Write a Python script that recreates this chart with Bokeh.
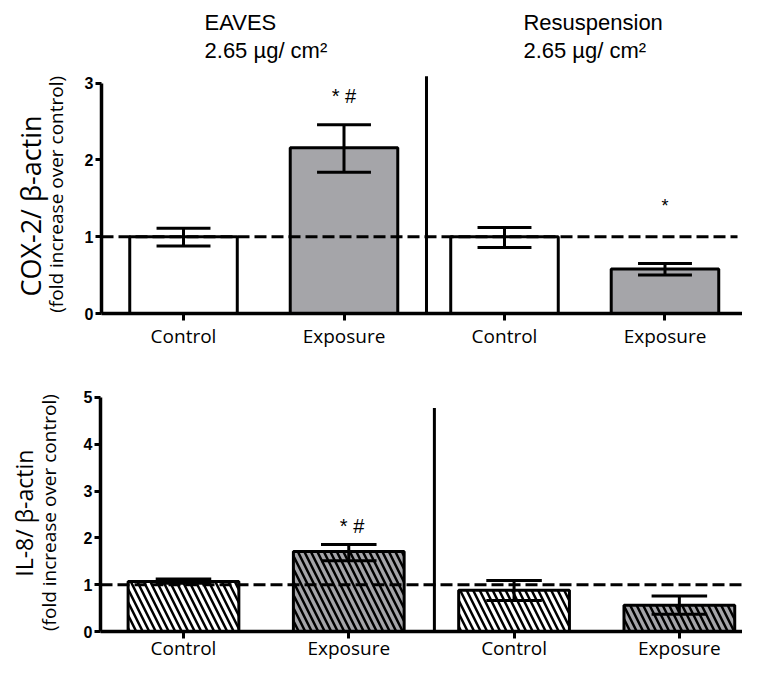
import math
from bokeh.plotting import figure
from bokeh.layouts import column, row
from bokeh.models import Range1d, FixedTicker, Label, ColumnDataSource
from bokeh.core.properties import value
from bokeh.embed import file_html
from bokeh.resources import INLINE

# ---------------- data ----------------
categories = ["Control", "Exposure", "Control", "Exposure"]
positions = [1, 2, 3, 4]
groups = ["EAVES", "Resuspension"]
dose = "2.65 µg/ cm²"

cox2_mean = [1.00, 2.16, 1.00, 0.58]
cox2_upper = [1.11, 2.46, 1.12, 0.65]
cox2_lower = [0.88, 1.84, 0.86, 0.50]
cox2_ticks = [0, 1, 2, 3]

il8_mean = [1.07, 1.71, 0.88, 0.56]
il8_upper = [1.12, 1.86, 1.09, 0.76]
il8_lower = [1.03, 1.51, 0.66, 0.37]
il8_ticks = [0, 1, 2, 3, 4, 5]

fills = ["white", "#a5a5a9", "white", "#a5a5a9"]
reference_level = 1.0

LABEL_FONT = "Open Sans"
ARIAL = "Liberation Sans"
BAR_W = 0.67
CAP = 0.168
LEFT_W = 70
TOTAL_W = 742


def style(p, yticks, xbound_end, tick_out, standoff):
    p.grid.visible = False
    p.outline_line_color = None
    p.background_fill_color = "white"
    p.border_fill_color = "white"
    ya = p.yaxis[0]
    ya.ticker = FixedTicker(ticks=yticks)
    ya.bounds = (0, yticks[-1])
    ya.axis_line_width = 3.5
    ya.major_tick_line_width = 3
    ya.major_tick_out = 6
    ya.major_tick_in = 0
    ya.minor_tick_line_color = None
    ya.major_label_text_font = ARIAL
    ya.major_label_text_font_style = "bold"
    ya.major_label_text_font_size = "16px"
    ya.major_label_text_color = "black"
    ya.major_label_standoff = 2
    xa = p.xaxis[0]
    xa.ticker = FixedTicker(ticks=positions)
    xa.major_label_overrides = {pos: c for pos, c in zip(positions, categories)}
    xa.bounds = (p.x_range.start, xbound_end)
    xa.axis_line_width = 3.5
    xa.major_tick_line_width = 3
    xa.major_tick_out = tick_out
    xa.major_tick_in = 0
    xa.minor_tick_line_color = None
    xa.major_label_text_font = LABEL_FONT
    xa.major_label_text_font_size = "19px"
    xa.major_label_text_color = "black"
    xa.major_label_standoff = standoff


def bars(p, mean, upper, lower, hatch, dash_end, sep_x, sep_top):
    src = ColumnDataSource(dict(x=positions, top=mean, fill=fills,
                                upper=upper, lower=lower,
                                cl=[x - CAP for x in positions],
                                cr=[x + CAP for x in positions]))
    kw = {}
    if hatch:
        kw = dict(hatch_pattern="\\", hatch_color="black", hatch_weight=2.5, hatch_scale=13)
    p.vbar(x="x", top="top", bottom=0, width=BAR_W, source=src, fill_color="fill",
           line_color="black", line_width=3, **kw)
    p.segment(x0=[p.x_range.start], x1=[dash_end], y0=[reference_level], y1=[reference_level],
              line_color="black", line_width=3, line_dash="12 5")
    p.segment(x0="x", x1="x", y0="lower", y1="upper", source=src, line_color="black", line_width=3)
    p.segment(x0="cl", x1="cr", y0="upper", y1="upper", source=src, line_color="black", line_width=3)
    p.segment(x0="cl", x1="cr", y0="lower", y1="lower", source=src, line_color="black", line_width=3)
    p.segment(x0=[sep_x], x1=[sep_x], y0=[0], y1=[sep_top], line_color="black", line_width=3)


def label_fig(height, y_end, main, sub, main_size, main_x, sub_x, main_y, sub_y):
    # the frame of this figure is aligned with the frame of its row neighbour,
    # so it shares the same y range
    lf = figure(width=LEFT_W, height=height, x_range=Range1d(0, LEFT_W),
                y_range=Range1d(0, y_end), min_border=0,
                x_axis_location=None, y_axis_location=None,
                toolbar_location=None, output_backend="svg")
    lf.grid.visible = False
    lf.outline_line_color = None
    lf.text(x=[main_x], y=[main_y], text=[main], angle=math.pi / 2,
            text_font=value(LABEL_FONT), text_font_size=main_size, text_align="left",
            text_baseline="middle", text_color="black")
    lf.text(x=[sub_x], y=[sub_y], text=[sub], angle=math.pi / 2,
            text_font=value(LABEL_FONT), text_font_size="19px", text_align="left",
            text_baseline="middle", text_color="black")
    return lf


# ---------------- top panel: COX-2 ----------------
TOP_H, TOP_B, TOP_PPU = 351, 37, 77.0
top_end = (TOP_H - TOP_B) / TOP_PPU
p1 = figure(width=TOTAL_W - LEFT_W, height=TOP_H, x_range=Range1d(0.489, 4.483),
            y_range=Range1d(0, top_end),
            min_border_left=31, min_border_right=0, min_border_top=0, min_border_bottom=TOP_B,
            toolbar_location=None, output_backend="svg")
style(p1, cox2_ticks, 4.483, 7, 2)
bars(p1, cox2_mean, cox2_upper, cox2_lower, False, 4.452, 2.514, 3.09)

p1.text(x=[2.0], y=[2.83], text=["* #"], text_font=value(ARIAL), text_font_size="20px",
        text_align="center", text_baseline="middle", text_color="black")
p1.text(x=[4.0], y=[1.40], text=["*"], text_font=value(ARIAL), text_font_size="18px",
        text_align="center", text_baseline="alphabetic", text_color="black")

for gx, g in zip([1.131, 3.118], groups):
    p1.add_layout(Label(x=gx, y=3.79, text=g, text_font=ARIAL, text_font_size="22px",
                        text_align="left", text_baseline="middle", text_color="black"))
    p1.add_layout(Label(x=gx, y=3.42, text=dose, text_font=ARIAL, text_font_size="22px",
                        text_align="left", text_baseline="middle", text_color="black"))

lf1 = label_fig(TOP_H, top_end, "COX-2/ β-actin",
                "(fold increase over control)", "27px", 30, 55, 0.22, 0.01)

# ---------------- bottom panel: IL-8 ----------------
BOT_H, BOT_B, BOT_PPU = 312, 31, 47.0
bot_end = (BOT_H - BOT_B) / BOT_PPU
p2 = figure(width=TOTAL_W - LEFT_W, height=BOT_H, x_range=Range1d(0.498, 4.382),
            y_range=Range1d(0, bot_end),
            min_border_left=30, min_border_right=0, min_border_top=0, min_border_bottom=BOT_B,
            toolbar_location=None, output_backend="svg")
style(p2, il8_ticks, 4.382, 7, -4)
bars(p2, il8_mean, il8_upper, il8_lower, True, 4.382, 2.518, 4.77)

p2.text(x=[2.02], y=[2.26], text=["* #"], text_font=value(ARIAL), text_font_size="20px",
        text_align="center", text_baseline="middle", text_color="black")

lf2 = label_fig(BOT_H, bot_end, "IL-8/ β-actin",
                "(fold increase over control)", "23px", 23, 48, 1.17, 0.01)

layout = column(row(lf1, p1), row(lf2, p2))
open("out.html", "w").write(file_html(layout, INLINE))
